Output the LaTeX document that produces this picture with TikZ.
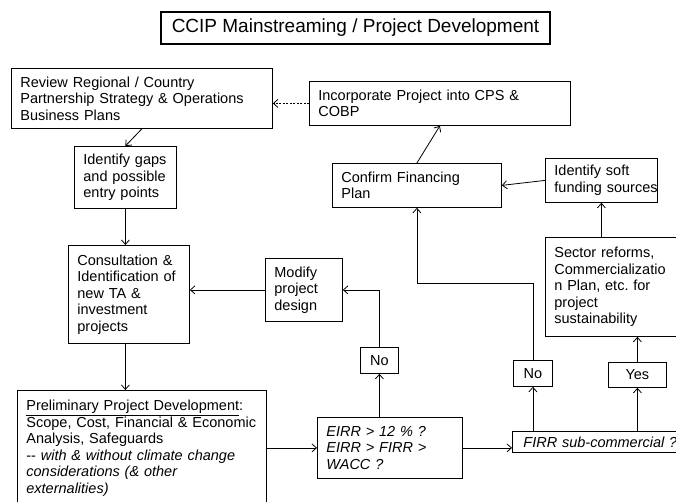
\documentclass[tikz,border=0pt]{standalone}
\usepackage{fontspec}
\setmainfont{Liberation Sans}
\usetikzlibrary{arrows.meta}
\frenchspacing

% a left-aligned process box: name, x, y (top left), width, height, text
\newcommand\flowbox[6]{%
  \node[box, text width=#4pt, minimum height=#5pt] (#1) at (#2,#3) {#6};}

\begin{document}
\begin{tikzpicture}[x=1pt,y=-1pt,
  every node/.style={font=\fontsize{14.5}{16.5}\selectfont},
  box/.style={draw, line width=0.8pt, anchor=north west, inner xsep=0pt,
    inner ysep=0pt, align=left,
    execute at begin node={\leftskip=9pt\rightskip=-40pt plus 1fil\relax}},
  tag/.style={draw, line width=0.8pt, anchor=north west, inner sep=0pt,
    align=center},
  arr/.style={line width=0.8pt, -{Straight Barb[length=4.5pt,width=8pt]}},
]
\useasboundingbox (0,0) rectangle (676,502);

% heading
\node[draw, line width=1.6pt, minimum width=389pt, minimum height=32pt,
  inner sep=0pt, font=\fontsize{19}{22}\selectfont] (title) at (355.5,28)
  {CCIP Mainstreaming / Project Development};

% process boxes
\flowbox{review}{11}{68}{261}{60}{Review Regional / Country\\Partnership Strategy \& Operations\\Business Plans}
\flowbox{gaps}{74}{146}{102}{62}{Identify gaps\\and possible\\entry points}
\flowbox{consult}{68}{245}{121}{98}{Consultation \&\\Identification of\\new TA \&\\investment\\projects}
\flowbox{modify}{265}{258}{77}{63}{Modify\\project\\design}
\flowbox{prelim}{17}{390}{249}{116}{\underline{Preliminary Project Development}:\\Scope, Cost, Financial \& Economic\\Analysis, Safeguards\\-{}- \textit{with \& without climate change}\\\textit{considerations (\& other}\\\textit{externalities)}}
\flowbox{eirr}{317}{417}{145}{61}{\itshape EIRR > 12 \% ?\\EIRR > FIRR >\\WACC ?}
\flowbox{firr}{512}{431}{173}{21}{\hspace*{2pt}\textit{FIRR sub-commercial ?}}
\flowbox{incorp}{309}{81}{261}{44}{Incorporate Project into CPS \&\\COBP}
\flowbox{confirm}{332}{163}{169}{44}{Confirm Financing\\Plan}
\flowbox{soft}{545}{158}{112}{44}{Identify soft\\funding sources}
\flowbox{sector}{545}{237}{140}{99}{Sector reforms,\\Commercializatio\\n Plan, etc. for\\project\\sustainability}

% decision outcomes
\node[tag, minimum width=38pt, minimum height=26pt] (no1) at (360,347) {No};
\node[tag, minimum width=39pt, minimum height=26pt] (no2) at (513,360) {No};
\node[tag, minimum width=58pt, minimum height=25pt] (yes) at (608,362) {Yes};

% turning point of the route from the second "No" up to the financing plan
\coordinate (turnB) at (0,283);

% connectors
\draw[arr, dash pattern=on 2pt off 1.5pt] (incorp.west) -- (incorp.west -| review.east);
\draw[arr] (review.south) -- (gaps.north);
\draw[arr] (gaps.south) -- (gaps.south |- consult.north);
\draw[arr] (consult.south -| gaps.south) -- (prelim.north -| gaps.south);
\draw[arr] (modify.west) -- (modify.west -| consult.east);
\draw[arr] (prelim.east |- eirr.west) -- (eirr.west);
\draw[arr] (eirr.north -| no1.south) -- (no1.south);
\draw[arr] (no1.north) |- (modify.east);
\draw[arr] (eirr.east) -- (eirr.east -| firr.west);
\draw[arr] (no2.south |- firr.north) -- (no2.south);
\draw[arr] (no2.north) -- (no2.north |- turnB) -| (confirm.south);
\draw[arr] (yes.south |- firr.north) -- (yes.south);
\draw[arr] (yes.north) -- (yes.north |- sector.south);
\draw[arr] (soft.south |- sector.north) -- (soft.south);
\draw[arr] (soft.west) -- (confirm.east);
\draw[arr] (confirm.north) -- (incorp.south);
\end{tikzpicture}
\end{document}
